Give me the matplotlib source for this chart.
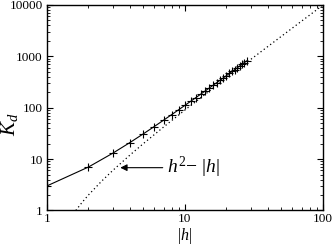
import matplotlib
matplotlib.use("Agg")
import matplotlib.pyplot as plt

plt.rcParams['font.family'] = ['Liberation Serif', 'DejaVu Serif']
plt.rcParams['mathtext.fontset'] = 'custom'
plt.rcParams['mathtext.rm'] = 'Liberation Serif'
plt.rcParams['mathtext.it'] = 'Liberation Serif:italic'

# measured K_d vs |h|
h = list(range(1, 29))
kd = [3, 7, 13, 21, 31, 43, 57, 73, 91, 111, 133, 157, 183, 211, 241, 273,
      307, 343, 381, 421, 463, 507, 553, 601, 651, 703, 757, 813]

# reference curve h^2 - |h|
h_ref = [1.62, 1.8, 2, 2.5, 3, 4, 5, 7, 10, 15, 20, 30, 50, 70, 100]
k_ref = [1.0, 1.44, 2, 3.75, 6, 12, 20, 42, 90, 210, 380, 870, 2450, 4830, 9900]

fig = plt.figure(figsize=(3.35, 2.45), dpi=100)
ax = fig.add_axes([0.140, 0.141, 0.824, 0.839])

ax.plot(h, kd, color='black', lw=0.8, marker='+', ms=6, mew=0.8)
ax.plot(h_ref, k_ref, color='black', lw=0.9, linestyle=(0, (1, 2.2)))

ax.set_xscale('log')
ax.set_yscale('log')
ax.set_xlim(1, 100)
ax.set_ylim(1, 10000)
ax.set_xticks([1, 10, 100])
ax.set_xticklabels(['1', '10', '100'])
ax.set_yticks([1, 10, 100, 1000, 10000])
ax.set_yticklabels(['1', '10', '100', '1000', '10000'])
ax.tick_params(which='both', direction='in', top=True, right=True, labelsize=9.5, pad=3)
ax.tick_params(axis='x', pad=2)
ax.tick_params(which='major', length=4, width=0.8)
ax.tick_params(which='minor', length=2, width=0.6)
for s in ax.spines.values():
    s.set_linewidth(1.0)

ax.set_xlabel(r'$|h|$', fontsize=11.5)
ax.xaxis.set_label_coords(0.5, -0.074)
ax.set_ylabel(r'$K_d$', fontsize=15)
ax.yaxis.set_label_coords(-0.098, 0.42)

ax.annotate(r'$h^2\!-\,|h|$', xy=(3.4, 6.8), xytext=(7.4, 6.8),
            fontsize=14, va='center', ha='left',
            arrowprops=dict(arrowstyle='-|>', color='black', lw=0.8,
                            mutation_scale=10, shrinkA=1, shrinkB=0))

fig.savefig('out.png', dpi=100)
